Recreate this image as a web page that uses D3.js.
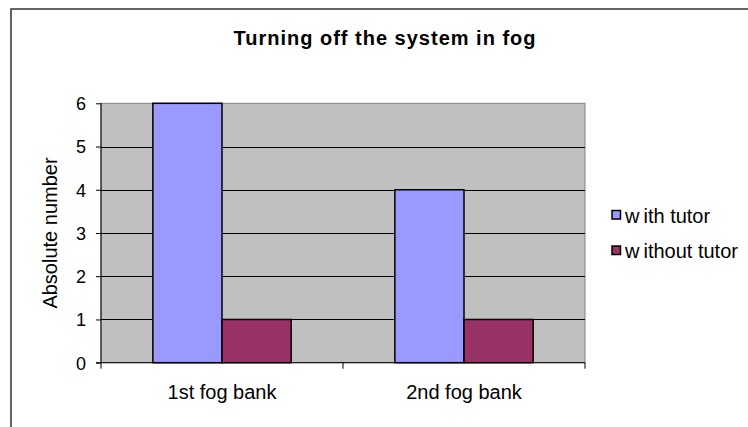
<!DOCTYPE html>
<html><head><meta charset="utf-8">
<script src="https://cdn.jsdelivr.net/npm/d3@7"></script>
<style>html,body{margin:0;padding:0;background:#fff;}svg{display:block;font-family:"Liberation Sans",Arial,sans-serif;}</style>
</head><body>
<svg id="c" width="748" height="427"></svg>
<script>
const categories = ["1st fog bank", "2nd fog bank"];
const seriesNames = ["with tutor", "without tutor"];
const withTutor = [6, 4];
const withoutTutor = [1, 1];
const yTicks = [0, 1, 2, 3, 4, 5, 6];
const colors = ["#9999FF", "#993366"];

const svg = d3.select("#c");
// outer chart border
svg.append("rect").attr("x", 11).attr("y", 9).attr("width", 760).attr("height", 440)
  .attr("fill", "#fff").attr("stroke", "#333").attr("stroke-width", 1.5);

const L = 101, R = 585, T = 103.3, B = 362.7;
const x0 = d3.scaleBand().domain(categories).range([L, R]).paddingInner(0).paddingOuter(0);
const bw = x0.bandwidth() / 3.5;
const x1 = d3.scaleBand().domain(seriesNames).range([0.75 * bw, 2.75 * bw]);
const y = d3.scaleLinear().domain([0, 6]).range([B, T]);

// plot area
svg.append("rect").attr("x", L).attr("y", T).attr("width", R - L).attr("height", B - T)
  .attr("fill", "#C0C0C0").attr("stroke", "#808080").attr("stroke-width", 1);

// gridlines
svg.append("g").selectAll("line").data(yTicks.filter(d => d > 0 && d < 6)).join("line")
  .attr("x1", L).attr("x2", R).attr("y1", d => Math.round(y(d)) + 0.5).attr("y2", d => Math.round(y(d)) + 0.5)
  .attr("stroke", "#000").attr("stroke-width", 1);

// bars
const data = categories.map((c, i) => ({c, vals: [withTutor[i], withoutTutor[i]]}));
const g = svg.append("g");
data.forEach(d => {
  d.vals.forEach((v, j) => {
    g.append("rect")
      .attr("x", x0(d.c) + x1(seriesNames[j]))
      .attr("y", y(v))
      .attr("width", x1.bandwidth())
      .attr("height", y(0) - y(v))
      .attr("fill", colors[j]).attr("stroke", "#000").attr("stroke-width", 1.5);
  });
});

// y axis
const yAxis = d3.axisLeft(y).tickValues(yTicks).tickSize(5).tickPadding(10).tickFormat(d3.format("d"));
const ya = svg.append("g").attr("transform", `translate(${L},0)`).call(yAxis);
ya.select(".domain").attr("stroke", "#000").attr("d", `M0,${T}V${B}`);
ya.selectAll(".tick line").attr("stroke", "#000");
ya.selectAll("text").attr("font-size", 18).attr("fill", "#000").attr("dy", "0.35em")
  .attr("font-family", "Liberation Sans, Arial, sans-serif");

// x axis
const xa = svg.append("g").attr("transform", `translate(0,${B})`);
xa.append("line").attr("x1", L - 5).attr("x2", R).attr("y1", 0).attr("y2", 0).attr("stroke", "#000");
const bounds = [L, L + x0.bandwidth(), R];
xa.selectAll("line.t").data(bounds).join("line").attr("class", "t")
  .attr("x1", d => d).attr("x2", d => d).attr("y1", 0).attr("y2", 6).attr("stroke", "#000");
xa.selectAll("text").data(categories).join("text")
  .attr("x", d => x0(d) + x0.bandwidth() / 2).attr("y", 36.5)
  .attr("text-anchor", "middle").attr("font-size", 20).attr("fill", "#000").text(d => d);

// title
svg.append("text").attr("x", 385).attr("y", 45).attr("text-anchor", "middle")
  .attr("font-size", 20).attr("font-weight", "bold").attr("letter-spacing", 1)
  .text("Turning off the system in fog");

// y title
svg.append("text").attr("transform", `translate(57,${(T + B) / 2}) rotate(-90)`)
  .attr("text-anchor", "middle").attr("font-size", 20).text("Absolute number");

// legend
const leg = svg.append("g");
seriesNames.forEach((s, i) => {
  const yy = 210.5 + i * 35.5;
  leg.append("rect").attr("x", 612).attr("y", yy).attr("width", 8.5).attr("height", 8.5)
    .attr("fill", colors[i]).attr("stroke", "#000").attr("stroke-width", 1.5);
  const t = leg.append("text").attr("x", 625).attr("y", yy + 12).attr("font-size", 20);
  t.append("tspan").text(s.slice(0, 1));
  t.append("tspan").attr("dx", 4).text(s.slice(1));
});
</script>
</body></html>
